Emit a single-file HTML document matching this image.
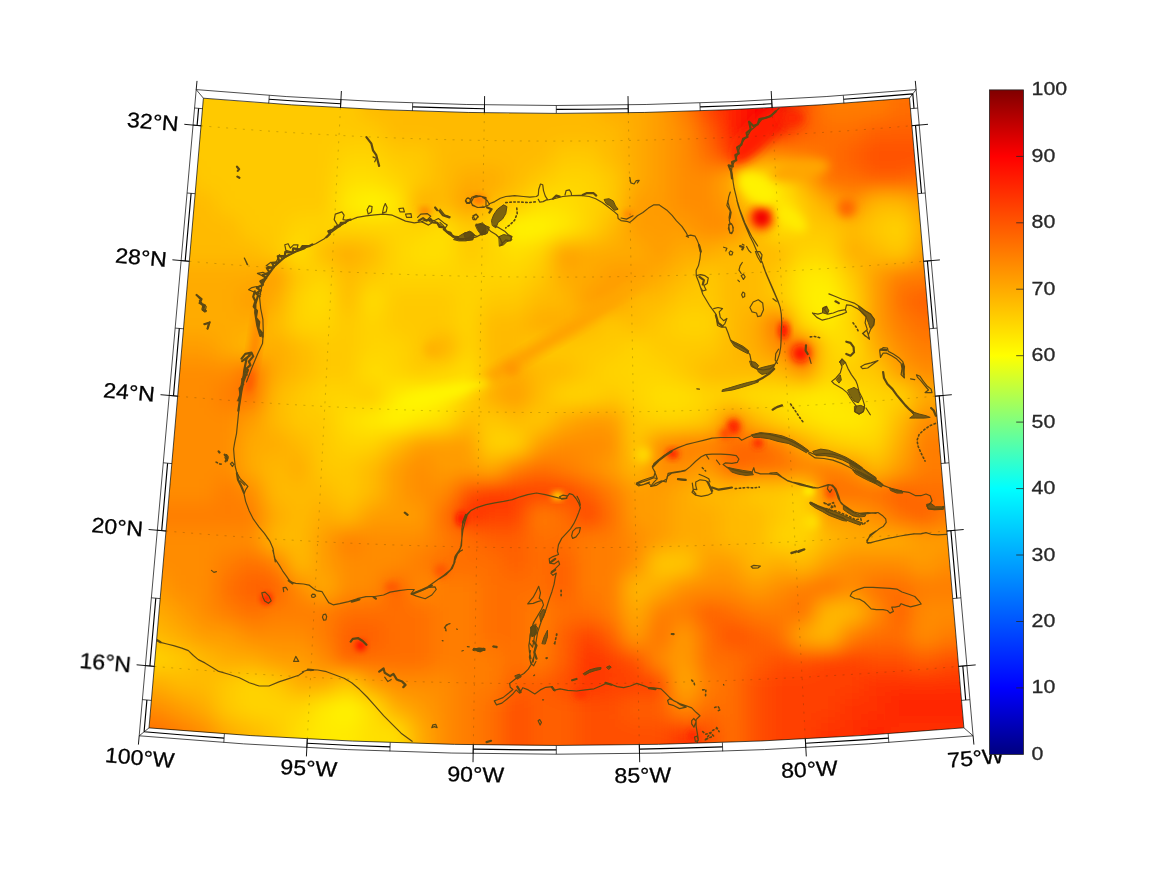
<!DOCTYPE html>
<html><head><meta charset="utf-8"><title>map</title>
<style>html,body{margin:0;padding:0;background:#fff}svg{display:block}text{font-family:"Liberation Sans",sans-serif}</style></head><body>
<svg width="1167" height="875" viewBox="0 0 1167 875">
<defs>
<clipPath id="c"><path d="M203.4,98.2A4100.7,4100.7 0 0 0 909.5,98.1L963.9,727.8A4732.7,4732.7 0 0 1 149,727.9Z"/></clipPath>
<filter id="b" x="-5%" y="-5%" width="110%" height="110%"><feGaussianBlur stdDeviation="10"/></filter>
<filter id="b2" x="-50%" y="-50%" width="200%" height="200%"><feGaussianBlur stdDeviation="5"/></filter>
<filter id="b4" x="-60%" y="-60%" width="220%" height="220%"><feGaussianBlur stdDeviation="4"/></filter>
<filter id="b3" x="-50%" y="-50%" width="200%" height="200%"><feGaussianBlur stdDeviation="3"/></filter>
<linearGradient id="jet" x1="0" y1="0" x2="0" y2="1"><stop offset="0" stop-color="#800000"/><stop offset="0.1" stop-color="#ff0000"/><stop offset="0.4" stop-color="#ffff00"/><stop offset="0.6" stop-color="#00ffff"/><stop offset="0.9" stop-color="#0000ff"/><stop offset="1" stop-color="#000080"/></linearGradient>
</defs>
<rect width="1167" height="875" fill="#fff"/>
<g clip-path="url(#c)">
<rect x="140" y="90" width="840" height="670" fill="#ffc900"/>
<g filter="url(#b)">
<rect x="104" y="56" width="256" height="64" fill="#ffc900"/>
<rect x="360" y="56" width="240" height="64" fill="#ffba00"/>
<rect x="600" y="56" width="48" height="64" fill="#ffab00"/>
<rect x="648" y="56" width="24" height="64" fill="#ff9c00"/>
<rect x="672" y="56" width="24" height="64" fill="#ff7d00"/>
<rect x="696" y="56" width="24" height="64" fill="#ff4000"/>
<rect x="720" y="56" width="24" height="64" fill="#ff2100"/>
<rect x="744" y="56" width="24" height="64" fill="#ff0300"/>
<rect x="768" y="56" width="24" height="64" fill="#d40000"/>
<rect x="792" y="56" width="24" height="64" fill="#ff4f00"/>
<rect x="816" y="56" width="72" height="64" fill="#ff7d00"/>
<rect x="888" y="56" width="136" height="64" fill="#ff6e00"/>
<rect x="104" y="120" width="280" height="24" fill="#ffc900"/>
<rect x="384" y="120" width="240" height="24" fill="#ffba00"/>
<rect x="624" y="120" width="24" height="24" fill="#ffab00"/>
<rect x="648" y="120" width="24" height="24" fill="#ff9c00"/>
<rect x="672" y="120" width="24" height="24" fill="#ff8c00"/>
<rect x="696" y="120" width="24" height="24" fill="#ff5e00"/>
<rect x="720" y="120" width="24" height="24" fill="#ff1200"/>
<rect x="744" y="120" width="24" height="24" fill="#f20000"/>
<rect x="768" y="120" width="24" height="24" fill="#ff0300"/>
<rect x="792" y="120" width="24" height="24" fill="#ff5e00"/>
<rect x="816" y="120" width="48" height="24" fill="#ff6e00"/>
<rect x="864" y="120" width="160" height="24" fill="#ff5e00"/>
<rect x="104" y="144" width="232" height="24" fill="#ffc900"/>
<rect x="336" y="144" width="48" height="24" fill="#ffd400"/>
<rect x="384" y="144" width="48" height="24" fill="#ffc900"/>
<rect x="432" y="144" width="120" height="24" fill="#ffba00"/>
<rect x="552" y="144" width="48" height="24" fill="#ffc900"/>
<rect x="600" y="144" width="24" height="24" fill="#ffba00"/>
<rect x="624" y="144" width="24" height="24" fill="#ffab00"/>
<rect x="648" y="144" width="24" height="24" fill="#ff9c00"/>
<rect x="672" y="144" width="24" height="24" fill="#ff8c00"/>
<rect x="696" y="144" width="24" height="24" fill="#ff6e00"/>
<rect x="720" y="144" width="24" height="24" fill="#ff3000"/>
<rect x="744" y="144" width="48" height="24" fill="#ff8c00"/>
<rect x="792" y="144" width="24" height="24" fill="#ff7d00"/>
<rect x="816" y="144" width="24" height="24" fill="#ff6e00"/>
<rect x="840" y="144" width="24" height="24" fill="#ff5e00"/>
<rect x="864" y="144" width="160" height="24" fill="#ff4f00"/>
<rect x="104" y="168" width="88" height="24" fill="#ffba00"/>
<rect x="192" y="168" width="144" height="24" fill="#ffc900"/>
<rect x="336" y="168" width="48" height="24" fill="#ffdf00"/>
<rect x="384" y="168" width="24" height="24" fill="#ffd400"/>
<rect x="408" y="168" width="24" height="24" fill="#ffc900"/>
<rect x="432" y="168" width="24" height="24" fill="#ffba00"/>
<rect x="456" y="168" width="48" height="24" fill="#ffab00"/>
<rect x="504" y="168" width="24" height="24" fill="#ffba00"/>
<rect x="528" y="168" width="24" height="24" fill="#ffc900"/>
<rect x="552" y="168" width="48" height="24" fill="#ffd400"/>
<rect x="600" y="168" width="24" height="24" fill="#ffc900"/>
<rect x="624" y="168" width="24" height="24" fill="#ffab00"/>
<rect x="648" y="168" width="24" height="24" fill="#ff9c00"/>
<rect x="672" y="168" width="48" height="24" fill="#ff8c00"/>
<rect x="720" y="168" width="24" height="24" fill="#ffab00"/>
<rect x="744" y="168" width="48" height="24" fill="#ffdf00"/>
<rect x="792" y="168" width="24" height="24" fill="#ffab00"/>
<rect x="816" y="168" width="48" height="24" fill="#ff6e00"/>
<rect x="864" y="168" width="48" height="24" fill="#ff5e00"/>
<rect x="912" y="168" width="112" height="24" fill="#ff6e00"/>
<rect x="104" y="192" width="112" height="24" fill="#ffba00"/>
<rect x="216" y="192" width="120" height="24" fill="#ffc900"/>
<rect x="336" y="192" width="24" height="24" fill="#ffea00"/>
<rect x="360" y="192" width="24" height="24" fill="#fff500"/>
<rect x="384" y="192" width="24" height="24" fill="#ffea00"/>
<rect x="408" y="192" width="24" height="24" fill="#ffab00"/>
<rect x="432" y="192" width="24" height="24" fill="#ffba00"/>
<rect x="456" y="192" width="24" height="24" fill="#ff9c00"/>
<rect x="480" y="192" width="24" height="24" fill="#ffba00"/>
<rect x="504" y="192" width="24" height="24" fill="#ffc900"/>
<rect x="528" y="192" width="48" height="24" fill="#ffdf00"/>
<rect x="576" y="192" width="24" height="24" fill="#ffd400"/>
<rect x="600" y="192" width="24" height="24" fill="#ffc900"/>
<rect x="624" y="192" width="48" height="24" fill="#ff9c00"/>
<rect x="672" y="192" width="48" height="24" fill="#ff8c00"/>
<rect x="720" y="192" width="24" height="24" fill="#ff9c00"/>
<rect x="744" y="192" width="24" height="24" fill="#ffd400"/>
<rect x="768" y="192" width="24" height="24" fill="#ffea00"/>
<rect x="792" y="192" width="24" height="24" fill="#ffc900"/>
<rect x="816" y="192" width="24" height="24" fill="#ffab00"/>
<rect x="840" y="192" width="24" height="24" fill="#ff8c00"/>
<rect x="864" y="192" width="48" height="24" fill="#ffba00"/>
<rect x="912" y="192" width="112" height="24" fill="#ff9c00"/>
<rect x="104" y="216" width="136" height="24" fill="#ffba00"/>
<rect x="240" y="216" width="48" height="24" fill="#ffc900"/>
<rect x="288" y="216" width="144" height="24" fill="#ffd400"/>
<rect x="432" y="216" width="24" height="24" fill="#ffdf00"/>
<rect x="456" y="216" width="24" height="24" fill="#ffc900"/>
<rect x="480" y="216" width="24" height="24" fill="#ffd400"/>
<rect x="504" y="216" width="48" height="24" fill="#fff500"/>
<rect x="552" y="216" width="24" height="24" fill="#ffea00"/>
<rect x="576" y="216" width="24" height="24" fill="#ffd400"/>
<rect x="600" y="216" width="24" height="24" fill="#ffba00"/>
<rect x="624" y="216" width="72" height="24" fill="#ff9c00"/>
<rect x="696" y="216" width="48" height="24" fill="#ff8c00"/>
<rect x="744" y="216" width="24" height="24" fill="#ffba00"/>
<rect x="768" y="216" width="24" height="24" fill="#ffdf00"/>
<rect x="792" y="216" width="48" height="24" fill="#ffc900"/>
<rect x="840" y="216" width="24" height="24" fill="#ffba00"/>
<rect x="864" y="216" width="24" height="24" fill="#ffc900"/>
<rect x="888" y="216" width="24" height="24" fill="#ffd400"/>
<rect x="912" y="216" width="112" height="24" fill="#ffab00"/>
<rect x="104" y="240" width="160" height="24" fill="#ffba00"/>
<rect x="264" y="240" width="24" height="24" fill="#ffc900"/>
<rect x="288" y="240" width="24" height="24" fill="#ffdf00"/>
<rect x="312" y="240" width="24" height="24" fill="#ffba00"/>
<rect x="336" y="240" width="24" height="24" fill="#ffab00"/>
<rect x="360" y="240" width="24" height="24" fill="#ffba00"/>
<rect x="384" y="240" width="24" height="24" fill="#ffd400"/>
<rect x="408" y="240" width="48" height="24" fill="#ffdf00"/>
<rect x="456" y="240" width="24" height="24" fill="#ffc900"/>
<rect x="480" y="240" width="24" height="24" fill="#ffd400"/>
<rect x="504" y="240" width="24" height="24" fill="#ffdf00"/>
<rect x="528" y="240" width="24" height="24" fill="#ffd400"/>
<rect x="552" y="240" width="24" height="24" fill="#ff9c00"/>
<rect x="576" y="240" width="72" height="24" fill="#ffab00"/>
<rect x="648" y="240" width="24" height="24" fill="#ff9c00"/>
<rect x="672" y="240" width="48" height="24" fill="#ffab00"/>
<rect x="720" y="240" width="72" height="24" fill="#ffba00"/>
<rect x="792" y="240" width="48" height="24" fill="#ffd400"/>
<rect x="840" y="240" width="24" height="24" fill="#ffab00"/>
<rect x="864" y="240" width="24" height="24" fill="#ffba00"/>
<rect x="888" y="240" width="24" height="24" fill="#ffc900"/>
<rect x="912" y="240" width="112" height="24" fill="#ff9c00"/>
<rect x="104" y="264" width="160" height="24" fill="#ffab00"/>
<rect x="264" y="264" width="24" height="24" fill="#ff9c00"/>
<rect x="288" y="264" width="24" height="24" fill="#ffc900"/>
<rect x="312" y="264" width="24" height="24" fill="#ffd400"/>
<rect x="336" y="264" width="24" height="24" fill="#ffba00"/>
<rect x="360" y="264" width="24" height="24" fill="#ffc900"/>
<rect x="384" y="264" width="144" height="24" fill="#ffd400"/>
<rect x="528" y="264" width="24" height="24" fill="#ffc900"/>
<rect x="552" y="264" width="48" height="24" fill="#ffab00"/>
<rect x="600" y="264" width="48" height="24" fill="#ff9c00"/>
<rect x="648" y="264" width="24" height="24" fill="#ffab00"/>
<rect x="672" y="264" width="24" height="24" fill="#ffba00"/>
<rect x="696" y="264" width="24" height="24" fill="#ffc900"/>
<rect x="720" y="264" width="48" height="24" fill="#ffba00"/>
<rect x="768" y="264" width="24" height="24" fill="#ffc900"/>
<rect x="792" y="264" width="48" height="24" fill="#ffea00"/>
<rect x="840" y="264" width="24" height="24" fill="#ffc900"/>
<rect x="864" y="264" width="24" height="24" fill="#ff9c00"/>
<rect x="888" y="264" width="136" height="24" fill="#ff7d00"/>
<rect x="104" y="288" width="136" height="24" fill="#ffab00"/>
<rect x="240" y="288" width="24" height="24" fill="#ff9c00"/>
<rect x="264" y="288" width="24" height="24" fill="#ffab00"/>
<rect x="288" y="288" width="24" height="24" fill="#ffd400"/>
<rect x="312" y="288" width="24" height="24" fill="#ffdf00"/>
<rect x="336" y="288" width="24" height="24" fill="#ffba00"/>
<rect x="360" y="288" width="24" height="24" fill="#ffdf00"/>
<rect x="384" y="288" width="72" height="24" fill="#ffc900"/>
<rect x="456" y="288" width="24" height="24" fill="#ffd400"/>
<rect x="480" y="288" width="48" height="24" fill="#ffc900"/>
<rect x="528" y="288" width="48" height="24" fill="#ffba00"/>
<rect x="576" y="288" width="48" height="24" fill="#ff9c00"/>
<rect x="624" y="288" width="48" height="24" fill="#ffba00"/>
<rect x="672" y="288" width="48" height="24" fill="#ffc900"/>
<rect x="720" y="288" width="48" height="24" fill="#ffba00"/>
<rect x="768" y="288" width="24" height="24" fill="#ffc900"/>
<rect x="792" y="288" width="24" height="24" fill="#ffea00"/>
<rect x="816" y="288" width="24" height="24" fill="#fff500"/>
<rect x="840" y="288" width="24" height="24" fill="#ffd400"/>
<rect x="864" y="288" width="24" height="24" fill="#ff9c00"/>
<rect x="888" y="288" width="24" height="24" fill="#ff6e00"/>
<rect x="912" y="288" width="112" height="24" fill="#ff5e00"/>
<rect x="104" y="312" width="160" height="24" fill="#ffab00"/>
<rect x="264" y="312" width="24" height="24" fill="#ffba00"/>
<rect x="288" y="312" width="48" height="24" fill="#ffd400"/>
<rect x="336" y="312" width="24" height="24" fill="#ffc900"/>
<rect x="360" y="312" width="24" height="24" fill="#ffd400"/>
<rect x="384" y="312" width="72" height="24" fill="#ffc900"/>
<rect x="456" y="312" width="24" height="24" fill="#ffd400"/>
<rect x="480" y="312" width="48" height="24" fill="#ffba00"/>
<rect x="528" y="312" width="48" height="24" fill="#ffab00"/>
<rect x="576" y="312" width="24" height="24" fill="#ffba00"/>
<rect x="600" y="312" width="24" height="24" fill="#ffc900"/>
<rect x="624" y="312" width="24" height="24" fill="#ffba00"/>
<rect x="648" y="312" width="24" height="24" fill="#ffc900"/>
<rect x="672" y="312" width="48" height="24" fill="#ffd400"/>
<rect x="720" y="312" width="24" height="24" fill="#ffba00"/>
<rect x="744" y="312" width="24" height="24" fill="#ffab00"/>
<rect x="768" y="312" width="24" height="24" fill="#ff5e00"/>
<rect x="792" y="312" width="24" height="24" fill="#ffdf00"/>
<rect x="816" y="312" width="24" height="24" fill="#ffea00"/>
<rect x="840" y="312" width="24" height="24" fill="#ffd400"/>
<rect x="864" y="312" width="24" height="24" fill="#ff9c00"/>
<rect x="888" y="312" width="24" height="24" fill="#ff7d00"/>
<rect x="912" y="312" width="112" height="24" fill="#ff6e00"/>
<rect x="104" y="336" width="112" height="24" fill="#ff9c00"/>
<rect x="216" y="336" width="24" height="24" fill="#ffab00"/>
<rect x="240" y="336" width="24" height="24" fill="#ffba00"/>
<rect x="264" y="336" width="24" height="24" fill="#ffab00"/>
<rect x="288" y="336" width="24" height="24" fill="#ffba00"/>
<rect x="312" y="336" width="48" height="24" fill="#ffc900"/>
<rect x="360" y="336" width="48" height="24" fill="#ffd400"/>
<rect x="408" y="336" width="24" height="24" fill="#ffc900"/>
<rect x="432" y="336" width="24" height="24" fill="#ffab00"/>
<rect x="456" y="336" width="24" height="24" fill="#ffd400"/>
<rect x="480" y="336" width="48" height="24" fill="#ffba00"/>
<rect x="528" y="336" width="96" height="24" fill="#ffc900"/>
<rect x="624" y="336" width="24" height="24" fill="#ffd400"/>
<rect x="648" y="336" width="72" height="24" fill="#ffc900"/>
<rect x="720" y="336" width="24" height="24" fill="#ffba00"/>
<rect x="744" y="336" width="24" height="24" fill="#ffab00"/>
<rect x="768" y="336" width="24" height="24" fill="#ff8c00"/>
<rect x="792" y="336" width="24" height="24" fill="#ff3000"/>
<rect x="816" y="336" width="24" height="24" fill="#ffd400"/>
<rect x="840" y="336" width="24" height="24" fill="#ffdf00"/>
<rect x="864" y="336" width="24" height="24" fill="#ffab00"/>
<rect x="888" y="336" width="24" height="24" fill="#ff8c00"/>
<rect x="912" y="336" width="112" height="24" fill="#ff7d00"/>
<rect x="104" y="360" width="136" height="24" fill="#ff8c00"/>
<rect x="240" y="360" width="24" height="24" fill="#ff6e00"/>
<rect x="264" y="360" width="24" height="24" fill="#ffab00"/>
<rect x="288" y="360" width="24" height="24" fill="#ffba00"/>
<rect x="312" y="360" width="48" height="24" fill="#ffc900"/>
<rect x="360" y="360" width="24" height="24" fill="#ffdf00"/>
<rect x="384" y="360" width="24" height="24" fill="#ffd400"/>
<rect x="408" y="360" width="24" height="24" fill="#ffc900"/>
<rect x="432" y="360" width="24" height="24" fill="#ffd400"/>
<rect x="456" y="360" width="24" height="24" fill="#ffdf00"/>
<rect x="480" y="360" width="24" height="24" fill="#ffba00"/>
<rect x="504" y="360" width="24" height="24" fill="#ffab00"/>
<rect x="528" y="360" width="48" height="24" fill="#ffba00"/>
<rect x="576" y="360" width="24" height="24" fill="#ffc900"/>
<rect x="600" y="360" width="72" height="24" fill="#ffd400"/>
<rect x="672" y="360" width="24" height="24" fill="#ffc900"/>
<rect x="696" y="360" width="96" height="24" fill="#ffba00"/>
<rect x="792" y="360" width="24" height="24" fill="#ff8c00"/>
<rect x="816" y="360" width="24" height="24" fill="#ffd400"/>
<rect x="840" y="360" width="48" height="24" fill="#ffc900"/>
<rect x="888" y="360" width="24" height="24" fill="#ff9c00"/>
<rect x="912" y="360" width="112" height="24" fill="#ff8c00"/>
<rect x="104" y="384" width="112" height="24" fill="#ff8c00"/>
<rect x="216" y="384" width="24" height="24" fill="#ff7d00"/>
<rect x="240" y="384" width="24" height="24" fill="#ff6e00"/>
<rect x="264" y="384" width="24" height="24" fill="#ffba00"/>
<rect x="288" y="384" width="24" height="24" fill="#ffc900"/>
<rect x="312" y="384" width="48" height="24" fill="#ffd400"/>
<rect x="360" y="384" width="24" height="24" fill="#ffc900"/>
<rect x="384" y="384" width="24" height="24" fill="#ffea00"/>
<rect x="408" y="384" width="24" height="24" fill="#fff500"/>
<rect x="432" y="384" width="24" height="24" fill="#ffea00"/>
<rect x="456" y="384" width="24" height="24" fill="#ffd400"/>
<rect x="480" y="384" width="24" height="24" fill="#ffab00"/>
<rect x="504" y="384" width="24" height="24" fill="#ff9c00"/>
<rect x="528" y="384" width="24" height="24" fill="#ffba00"/>
<rect x="552" y="384" width="48" height="24" fill="#ffd400"/>
<rect x="600" y="384" width="24" height="24" fill="#ffc900"/>
<rect x="624" y="384" width="24" height="24" fill="#ffd400"/>
<rect x="648" y="384" width="48" height="24" fill="#ffdf00"/>
<rect x="696" y="384" width="48" height="24" fill="#ffd400"/>
<rect x="744" y="384" width="48" height="24" fill="#ffdf00"/>
<rect x="792" y="384" width="48" height="24" fill="#ffea00"/>
<rect x="840" y="384" width="24" height="24" fill="#ffdf00"/>
<rect x="864" y="384" width="48" height="24" fill="#ffd400"/>
<rect x="912" y="384" width="112" height="24" fill="#ffab00"/>
<rect x="104" y="408" width="136" height="24" fill="#ff8c00"/>
<rect x="240" y="408" width="24" height="24" fill="#ff9c00"/>
<rect x="264" y="408" width="24" height="24" fill="#ffba00"/>
<rect x="288" y="408" width="48" height="24" fill="#ffc900"/>
<rect x="336" y="408" width="24" height="24" fill="#ffdf00"/>
<rect x="360" y="408" width="24" height="24" fill="#ffea00"/>
<rect x="384" y="408" width="24" height="24" fill="#fff500"/>
<rect x="408" y="408" width="24" height="24" fill="#ffea00"/>
<rect x="432" y="408" width="24" height="24" fill="#ffdf00"/>
<rect x="456" y="408" width="24" height="24" fill="#ffba00"/>
<rect x="480" y="408" width="24" height="24" fill="#ffc900"/>
<rect x="504" y="408" width="24" height="24" fill="#ffba00"/>
<rect x="528" y="408" width="24" height="24" fill="#ffc900"/>
<rect x="552" y="408" width="24" height="24" fill="#ffab00"/>
<rect x="576" y="408" width="48" height="24" fill="#ff9c00"/>
<rect x="624" y="408" width="24" height="24" fill="#ffc900"/>
<rect x="648" y="408" width="48" height="24" fill="#ffd400"/>
<rect x="696" y="408" width="24" height="24" fill="#ffc900"/>
<rect x="720" y="408" width="24" height="24" fill="#ff7d00"/>
<rect x="744" y="408" width="24" height="24" fill="#ffba00"/>
<rect x="768" y="408" width="24" height="24" fill="#ffd400"/>
<rect x="792" y="408" width="24" height="24" fill="#ffdf00"/>
<rect x="816" y="408" width="48" height="24" fill="#ffea00"/>
<rect x="864" y="408" width="24" height="24" fill="#ffdf00"/>
<rect x="888" y="408" width="24" height="24" fill="#ffba00"/>
<rect x="912" y="408" width="112" height="24" fill="#ff8c00"/>
<rect x="104" y="432" width="136" height="24" fill="#ff8c00"/>
<rect x="240" y="432" width="48" height="24" fill="#ffab00"/>
<rect x="288" y="432" width="24" height="24" fill="#ffba00"/>
<rect x="312" y="432" width="24" height="24" fill="#ffc900"/>
<rect x="336" y="432" width="48" height="24" fill="#ffd400"/>
<rect x="384" y="432" width="24" height="24" fill="#ffba00"/>
<rect x="408" y="432" width="72" height="24" fill="#ff9c00"/>
<rect x="480" y="432" width="48" height="24" fill="#ffd400"/>
<rect x="528" y="432" width="24" height="24" fill="#ff9c00"/>
<rect x="552" y="432" width="72" height="24" fill="#ff8c00"/>
<rect x="624" y="432" width="24" height="24" fill="#ffc900"/>
<rect x="648" y="432" width="24" height="24" fill="#ff8c00"/>
<rect x="672" y="432" width="48" height="24" fill="#ff7d00"/>
<rect x="720" y="432" width="24" height="24" fill="#ff6e00"/>
<rect x="744" y="432" width="24" height="24" fill="#ff5e00"/>
<rect x="768" y="432" width="24" height="24" fill="#ff7d00"/>
<rect x="792" y="432" width="24" height="24" fill="#ffab00"/>
<rect x="816" y="432" width="24" height="24" fill="#ffc900"/>
<rect x="840" y="432" width="48" height="24" fill="#ffd400"/>
<rect x="888" y="432" width="24" height="24" fill="#ffab00"/>
<rect x="912" y="432" width="112" height="24" fill="#ff7d00"/>
<rect x="104" y="456" width="136" height="24" fill="#ff8c00"/>
<rect x="240" y="456" width="24" height="24" fill="#ffab00"/>
<rect x="264" y="456" width="24" height="24" fill="#ffba00"/>
<rect x="288" y="456" width="24" height="24" fill="#ffab00"/>
<rect x="312" y="456" width="48" height="24" fill="#ffc900"/>
<rect x="360" y="456" width="24" height="24" fill="#ffba00"/>
<rect x="384" y="456" width="24" height="24" fill="#ff9c00"/>
<rect x="408" y="456" width="24" height="24" fill="#ff8c00"/>
<rect x="432" y="456" width="48" height="24" fill="#ff9c00"/>
<rect x="480" y="456" width="24" height="24" fill="#ffab00"/>
<rect x="504" y="456" width="24" height="24" fill="#ff7d00"/>
<rect x="528" y="456" width="24" height="24" fill="#ff6e00"/>
<rect x="552" y="456" width="24" height="24" fill="#ff7d00"/>
<rect x="576" y="456" width="24" height="24" fill="#ff8c00"/>
<rect x="600" y="456" width="24" height="24" fill="#ff9c00"/>
<rect x="624" y="456" width="24" height="24" fill="#ffba00"/>
<rect x="648" y="456" width="48" height="24" fill="#ff8c00"/>
<rect x="696" y="456" width="24" height="24" fill="#ff9c00"/>
<rect x="720" y="456" width="24" height="24" fill="#ff5e00"/>
<rect x="744" y="456" width="48" height="24" fill="#ff6e00"/>
<rect x="792" y="456" width="48" height="24" fill="#ff7d00"/>
<rect x="840" y="456" width="24" height="24" fill="#ff8c00"/>
<rect x="864" y="456" width="24" height="24" fill="#ffba00"/>
<rect x="888" y="456" width="24" height="24" fill="#ff9c00"/>
<rect x="912" y="456" width="112" height="24" fill="#ff7d00"/>
<rect x="104" y="480" width="112" height="24" fill="#ff8c00"/>
<rect x="216" y="480" width="24" height="24" fill="#ff7d00"/>
<rect x="240" y="480" width="24" height="24" fill="#ff8c00"/>
<rect x="264" y="480" width="72" height="24" fill="#ffba00"/>
<rect x="336" y="480" width="24" height="24" fill="#ffc900"/>
<rect x="360" y="480" width="24" height="24" fill="#ffba00"/>
<rect x="384" y="480" width="24" height="24" fill="#ff9c00"/>
<rect x="408" y="480" width="48" height="24" fill="#ff8c00"/>
<rect x="456" y="480" width="24" height="24" fill="#ff4f00"/>
<rect x="480" y="480" width="24" height="24" fill="#ff3000"/>
<rect x="504" y="480" width="72" height="24" fill="#ff4000"/>
<rect x="576" y="480" width="24" height="24" fill="#ff5e00"/>
<rect x="600" y="480" width="24" height="24" fill="#ff7d00"/>
<rect x="624" y="480" width="48" height="24" fill="#ff9c00"/>
<rect x="672" y="480" width="24" height="24" fill="#ffab00"/>
<rect x="696" y="480" width="48" height="24" fill="#ffba00"/>
<rect x="744" y="480" width="48" height="24" fill="#ffc900"/>
<rect x="792" y="480" width="24" height="24" fill="#ffd400"/>
<rect x="816" y="480" width="72" height="24" fill="#ff6e00"/>
<rect x="888" y="480" width="24" height="24" fill="#ff5e00"/>
<rect x="912" y="480" width="112" height="24" fill="#ff6e00"/>
<rect x="104" y="504" width="160" height="24" fill="#ff7d00"/>
<rect x="264" y="504" width="24" height="24" fill="#ffab00"/>
<rect x="288" y="504" width="24" height="24" fill="#ffba00"/>
<rect x="312" y="504" width="24" height="24" fill="#ffab00"/>
<rect x="336" y="504" width="24" height="24" fill="#ffba00"/>
<rect x="360" y="504" width="72" height="24" fill="#ff9c00"/>
<rect x="432" y="504" width="24" height="24" fill="#ff6e00"/>
<rect x="456" y="504" width="24" height="24" fill="#ff2100"/>
<rect x="480" y="504" width="48" height="24" fill="#ff4000"/>
<rect x="528" y="504" width="24" height="24" fill="#ff7d00"/>
<rect x="552" y="504" width="24" height="24" fill="#ff6e00"/>
<rect x="576" y="504" width="24" height="24" fill="#ff4000"/>
<rect x="600" y="504" width="24" height="24" fill="#ff6e00"/>
<rect x="624" y="504" width="48" height="24" fill="#ff9c00"/>
<rect x="672" y="504" width="48" height="24" fill="#ffab00"/>
<rect x="720" y="504" width="48" height="24" fill="#ffba00"/>
<rect x="768" y="504" width="24" height="24" fill="#ffc900"/>
<rect x="792" y="504" width="24" height="24" fill="#ffd400"/>
<rect x="816" y="504" width="48" height="24" fill="#ff9c00"/>
<rect x="864" y="504" width="24" height="24" fill="#ff8c00"/>
<rect x="888" y="504" width="24" height="24" fill="#ff6e00"/>
<rect x="912" y="504" width="24" height="24" fill="#ff5e00"/>
<rect x="936" y="504" width="88" height="24" fill="#ff7d00"/>
<rect x="104" y="528" width="160" height="24" fill="#ff8c00"/>
<rect x="264" y="528" width="48" height="24" fill="#ffba00"/>
<rect x="312" y="528" width="24" height="24" fill="#ff9c00"/>
<rect x="336" y="528" width="24" height="24" fill="#ff7d00"/>
<rect x="360" y="528" width="72" height="24" fill="#ff8c00"/>
<rect x="432" y="528" width="24" height="24" fill="#ff7d00"/>
<rect x="456" y="528" width="24" height="24" fill="#ff6e00"/>
<rect x="480" y="528" width="48" height="24" fill="#ff5e00"/>
<rect x="528" y="528" width="48" height="24" fill="#ff6e00"/>
<rect x="576" y="528" width="48" height="24" fill="#ff7d00"/>
<rect x="624" y="528" width="24" height="24" fill="#ff8c00"/>
<rect x="648" y="528" width="24" height="24" fill="#ff9c00"/>
<rect x="672" y="528" width="48" height="24" fill="#ffab00"/>
<rect x="720" y="528" width="48" height="24" fill="#ffba00"/>
<rect x="768" y="528" width="48" height="24" fill="#ffd400"/>
<rect x="816" y="528" width="24" height="24" fill="#ffba00"/>
<rect x="840" y="528" width="72" height="24" fill="#ffab00"/>
<rect x="912" y="528" width="112" height="24" fill="#ff9c00"/>
<rect x="104" y="552" width="112" height="24" fill="#ff8c00"/>
<rect x="216" y="552" width="24" height="24" fill="#ff7d00"/>
<rect x="240" y="552" width="24" height="24" fill="#ff6e00"/>
<rect x="264" y="552" width="24" height="24" fill="#ff7d00"/>
<rect x="288" y="552" width="24" height="24" fill="#ffba00"/>
<rect x="312" y="552" width="24" height="24" fill="#ff9c00"/>
<rect x="336" y="552" width="72" height="24" fill="#ff8c00"/>
<rect x="408" y="552" width="24" height="24" fill="#ff7d00"/>
<rect x="432" y="552" width="72" height="24" fill="#ff6e00"/>
<rect x="504" y="552" width="24" height="24" fill="#ff5e00"/>
<rect x="528" y="552" width="24" height="24" fill="#ff6e00"/>
<rect x="552" y="552" width="24" height="24" fill="#ff5e00"/>
<rect x="576" y="552" width="48" height="24" fill="#ff7d00"/>
<rect x="624" y="552" width="24" height="24" fill="#ff8c00"/>
<rect x="648" y="552" width="48" height="24" fill="#ffc900"/>
<rect x="696" y="552" width="48" height="24" fill="#ff9c00"/>
<rect x="744" y="552" width="24" height="24" fill="#ffba00"/>
<rect x="768" y="552" width="24" height="24" fill="#ffab00"/>
<rect x="792" y="552" width="24" height="24" fill="#ffba00"/>
<rect x="816" y="552" width="24" height="24" fill="#ff9c00"/>
<rect x="840" y="552" width="72" height="24" fill="#ff8c00"/>
<rect x="912" y="552" width="24" height="24" fill="#ff9c00"/>
<rect x="936" y="552" width="88" height="24" fill="#ff8c00"/>
<rect x="104" y="576" width="64" height="24" fill="#ff9c00"/>
<rect x="168" y="576" width="48" height="24" fill="#ff8c00"/>
<rect x="216" y="576" width="24" height="24" fill="#ff6e00"/>
<rect x="240" y="576" width="48" height="24" fill="#ff5e00"/>
<rect x="288" y="576" width="24" height="24" fill="#ff8c00"/>
<rect x="312" y="576" width="24" height="24" fill="#ffab00"/>
<rect x="336" y="576" width="48" height="24" fill="#ff8c00"/>
<rect x="384" y="576" width="24" height="24" fill="#ff5e00"/>
<rect x="408" y="576" width="24" height="24" fill="#ff8c00"/>
<rect x="432" y="576" width="48" height="24" fill="#ff7d00"/>
<rect x="480" y="576" width="72" height="24" fill="#ff6e00"/>
<rect x="552" y="576" width="24" height="24" fill="#ff5e00"/>
<rect x="576" y="576" width="48" height="24" fill="#ff7d00"/>
<rect x="624" y="576" width="24" height="24" fill="#ffba00"/>
<rect x="648" y="576" width="24" height="24" fill="#ffab00"/>
<rect x="672" y="576" width="72" height="24" fill="#ff8c00"/>
<rect x="744" y="576" width="24" height="24" fill="#ff9c00"/>
<rect x="768" y="576" width="24" height="24" fill="#ff8c00"/>
<rect x="792" y="576" width="24" height="24" fill="#ff7d00"/>
<rect x="816" y="576" width="24" height="24" fill="#ff6e00"/>
<rect x="840" y="576" width="24" height="24" fill="#ff8c00"/>
<rect x="864" y="576" width="48" height="24" fill="#ff6e00"/>
<rect x="912" y="576" width="112" height="24" fill="#ff7d00"/>
<rect x="104" y="600" width="64" height="24" fill="#ffab00"/>
<rect x="168" y="600" width="24" height="24" fill="#ff9c00"/>
<rect x="192" y="600" width="24" height="24" fill="#ff8c00"/>
<rect x="216" y="600" width="24" height="24" fill="#ff7d00"/>
<rect x="240" y="600" width="24" height="24" fill="#ff6e00"/>
<rect x="264" y="600" width="72" height="24" fill="#ff7d00"/>
<rect x="336" y="600" width="96" height="24" fill="#ff6e00"/>
<rect x="432" y="600" width="48" height="24" fill="#ff7d00"/>
<rect x="480" y="600" width="48" height="24" fill="#ff6e00"/>
<rect x="528" y="600" width="24" height="24" fill="#ff7d00"/>
<rect x="552" y="600" width="48" height="24" fill="#ff6e00"/>
<rect x="600" y="600" width="24" height="24" fill="#ff7d00"/>
<rect x="624" y="600" width="24" height="24" fill="#ffab00"/>
<rect x="648" y="600" width="48" height="24" fill="#ff7d00"/>
<rect x="696" y="600" width="24" height="24" fill="#ff5e00"/>
<rect x="720" y="600" width="24" height="24" fill="#ff6e00"/>
<rect x="744" y="600" width="48" height="24" fill="#ff7d00"/>
<rect x="792" y="600" width="24" height="24" fill="#ff6e00"/>
<rect x="816" y="600" width="48" height="24" fill="#ffba00"/>
<rect x="864" y="600" width="24" height="24" fill="#ff8c00"/>
<rect x="888" y="600" width="24" height="24" fill="#ff5e00"/>
<rect x="912" y="600" width="112" height="24" fill="#ff8c00"/>
<rect x="104" y="624" width="64" height="24" fill="#ffba00"/>
<rect x="168" y="624" width="24" height="24" fill="#ffab00"/>
<rect x="192" y="624" width="48" height="24" fill="#ff9c00"/>
<rect x="240" y="624" width="72" height="24" fill="#ff8c00"/>
<rect x="312" y="624" width="24" height="24" fill="#ff7d00"/>
<rect x="336" y="624" width="48" height="24" fill="#ff5e00"/>
<rect x="384" y="624" width="48" height="24" fill="#ff6e00"/>
<rect x="432" y="624" width="48" height="24" fill="#ff7d00"/>
<rect x="480" y="624" width="48" height="24" fill="#ff6e00"/>
<rect x="528" y="624" width="24" height="24" fill="#ff7d00"/>
<rect x="552" y="624" width="24" height="24" fill="#ff5e00"/>
<rect x="576" y="624" width="24" height="24" fill="#ff4000"/>
<rect x="600" y="624" width="24" height="24" fill="#ff5e00"/>
<rect x="624" y="624" width="24" height="24" fill="#ff9c00"/>
<rect x="648" y="624" width="24" height="24" fill="#ff6e00"/>
<rect x="672" y="624" width="24" height="24" fill="#ff9c00"/>
<rect x="696" y="624" width="24" height="24" fill="#ff6e00"/>
<rect x="720" y="624" width="24" height="24" fill="#ff4f00"/>
<rect x="744" y="624" width="24" height="24" fill="#ff5e00"/>
<rect x="768" y="624" width="24" height="24" fill="#ff6e00"/>
<rect x="792" y="624" width="24" height="24" fill="#ffab00"/>
<rect x="816" y="624" width="24" height="24" fill="#ffba00"/>
<rect x="840" y="624" width="24" height="24" fill="#ff7d00"/>
<rect x="864" y="624" width="48" height="24" fill="#ff6e00"/>
<rect x="912" y="624" width="24" height="24" fill="#ff8c00"/>
<rect x="936" y="624" width="88" height="24" fill="#ff7d00"/>
<rect x="104" y="648" width="64" height="24" fill="#ffd400"/>
<rect x="168" y="648" width="24" height="24" fill="#ffc900"/>
<rect x="192" y="648" width="24" height="24" fill="#ffba00"/>
<rect x="216" y="648" width="48" height="24" fill="#ffab00"/>
<rect x="264" y="648" width="48" height="24" fill="#ff9c00"/>
<rect x="312" y="648" width="24" height="24" fill="#ff8c00"/>
<rect x="336" y="648" width="24" height="24" fill="#ff5e00"/>
<rect x="360" y="648" width="72" height="24" fill="#ff6e00"/>
<rect x="432" y="648" width="72" height="24" fill="#ff7d00"/>
<rect x="504" y="648" width="24" height="24" fill="#ff6e00"/>
<rect x="528" y="648" width="24" height="24" fill="#ff7d00"/>
<rect x="552" y="648" width="24" height="24" fill="#ff5e00"/>
<rect x="576" y="648" width="24" height="24" fill="#ff3000"/>
<rect x="600" y="648" width="24" height="24" fill="#ff4000"/>
<rect x="624" y="648" width="24" height="24" fill="#ff4f00"/>
<rect x="648" y="648" width="24" height="24" fill="#ff8c00"/>
<rect x="672" y="648" width="24" height="24" fill="#ff9c00"/>
<rect x="696" y="648" width="48" height="24" fill="#ff6e00"/>
<rect x="744" y="648" width="24" height="24" fill="#ff5e00"/>
<rect x="768" y="648" width="48" height="24" fill="#ff4f00"/>
<rect x="816" y="648" width="48" height="24" fill="#ff4000"/>
<rect x="864" y="648" width="48" height="24" fill="#ff4f00"/>
<rect x="912" y="648" width="24" height="24" fill="#ff5e00"/>
<rect x="936" y="648" width="88" height="24" fill="#ff4f00"/>
<rect x="104" y="672" width="64" height="24" fill="#ffab00"/>
<rect x="168" y="672" width="48" height="24" fill="#ffba00"/>
<rect x="216" y="672" width="24" height="24" fill="#ffc900"/>
<rect x="240" y="672" width="24" height="24" fill="#ffd400"/>
<rect x="264" y="672" width="24" height="24" fill="#ffc900"/>
<rect x="288" y="672" width="48" height="24" fill="#ffab00"/>
<rect x="336" y="672" width="24" height="24" fill="#ffc900"/>
<rect x="360" y="672" width="24" height="24" fill="#ff9c00"/>
<rect x="384" y="672" width="72" height="24" fill="#ff8c00"/>
<rect x="456" y="672" width="48" height="24" fill="#ff7d00"/>
<rect x="504" y="672" width="48" height="24" fill="#ff5e00"/>
<rect x="552" y="672" width="24" height="24" fill="#ff4f00"/>
<rect x="576" y="672" width="24" height="24" fill="#ff3000"/>
<rect x="600" y="672" width="72" height="24" fill="#ff4000"/>
<rect x="672" y="672" width="24" height="24" fill="#ffab00"/>
<rect x="696" y="672" width="24" height="24" fill="#ff7d00"/>
<rect x="720" y="672" width="24" height="24" fill="#ff6e00"/>
<rect x="744" y="672" width="24" height="24" fill="#ff4f00"/>
<rect x="768" y="672" width="96" height="24" fill="#ff4000"/>
<rect x="864" y="672" width="160" height="24" fill="#ff3000"/>
<rect x="104" y="696" width="64" height="24" fill="#ff8c00"/>
<rect x="168" y="696" width="24" height="24" fill="#ff9c00"/>
<rect x="192" y="696" width="24" height="24" fill="#ffab00"/>
<rect x="216" y="696" width="24" height="24" fill="#ffc900"/>
<rect x="240" y="696" width="72" height="24" fill="#ffd400"/>
<rect x="312" y="696" width="24" height="24" fill="#ffea00"/>
<rect x="336" y="696" width="24" height="24" fill="#fff500"/>
<rect x="360" y="696" width="24" height="24" fill="#ffdf00"/>
<rect x="384" y="696" width="24" height="24" fill="#ffab00"/>
<rect x="408" y="696" width="24" height="24" fill="#ff9c00"/>
<rect x="432" y="696" width="24" height="24" fill="#ff8c00"/>
<rect x="456" y="696" width="24" height="24" fill="#ff7d00"/>
<rect x="480" y="696" width="24" height="24" fill="#ff6e00"/>
<rect x="504" y="696" width="24" height="24" fill="#ff4f00"/>
<rect x="528" y="696" width="48" height="24" fill="#ff5e00"/>
<rect x="576" y="696" width="48" height="24" fill="#ff4f00"/>
<rect x="624" y="696" width="48" height="24" fill="#ff5e00"/>
<rect x="672" y="696" width="24" height="24" fill="#ff8c00"/>
<rect x="696" y="696" width="48" height="24" fill="#ff6e00"/>
<rect x="744" y="696" width="24" height="24" fill="#ff4f00"/>
<rect x="768" y="696" width="72" height="24" fill="#ff4000"/>
<rect x="840" y="696" width="48" height="24" fill="#ff3000"/>
<rect x="888" y="696" width="136" height="24" fill="#ff2100"/>
<rect x="104" y="720" width="64" height="24" fill="#ff6e00"/>
<rect x="168" y="720" width="24" height="24" fill="#ff7d00"/>
<rect x="192" y="720" width="24" height="24" fill="#ff8c00"/>
<rect x="216" y="720" width="24" height="24" fill="#ffab00"/>
<rect x="240" y="720" width="24" height="24" fill="#ffba00"/>
<rect x="264" y="720" width="24" height="24" fill="#ffc900"/>
<rect x="288" y="720" width="24" height="24" fill="#ffdf00"/>
<rect x="312" y="720" width="48" height="24" fill="#ffea00"/>
<rect x="360" y="720" width="48" height="24" fill="#ffdf00"/>
<rect x="408" y="720" width="24" height="24" fill="#ffab00"/>
<rect x="432" y="720" width="24" height="24" fill="#ff8c00"/>
<rect x="456" y="720" width="24" height="24" fill="#ff7d00"/>
<rect x="480" y="720" width="24" height="24" fill="#ff6e00"/>
<rect x="504" y="720" width="24" height="24" fill="#ff4f00"/>
<rect x="528" y="720" width="48" height="24" fill="#ff5e00"/>
<rect x="576" y="720" width="96" height="24" fill="#ff4f00"/>
<rect x="672" y="720" width="24" height="24" fill="#ff3000"/>
<rect x="696" y="720" width="24" height="24" fill="#ff4f00"/>
<rect x="720" y="720" width="24" height="24" fill="#ff6e00"/>
<rect x="744" y="720" width="24" height="24" fill="#ff4f00"/>
<rect x="768" y="720" width="48" height="24" fill="#ff4000"/>
<rect x="816" y="720" width="48" height="24" fill="#ff3000"/>
<rect x="864" y="720" width="24" height="24" fill="#ff2100"/>
<rect x="888" y="720" width="136" height="24" fill="#ff3000"/>
<rect x="104" y="744" width="64" height="64" fill="#ff6e00"/>
<rect x="168" y="744" width="24" height="64" fill="#ff7d00"/>
<rect x="192" y="744" width="24" height="64" fill="#ff8c00"/>
<rect x="216" y="744" width="24" height="64" fill="#ffab00"/>
<rect x="240" y="744" width="24" height="64" fill="#ffba00"/>
<rect x="264" y="744" width="24" height="64" fill="#ffc900"/>
<rect x="288" y="744" width="24" height="64" fill="#ffdf00"/>
<rect x="312" y="744" width="48" height="64" fill="#ffea00"/>
<rect x="360" y="744" width="48" height="64" fill="#ffdf00"/>
<rect x="408" y="744" width="24" height="64" fill="#ffab00"/>
<rect x="432" y="744" width="24" height="64" fill="#ff8c00"/>
<rect x="456" y="744" width="24" height="64" fill="#ff7d00"/>
<rect x="480" y="744" width="24" height="64" fill="#ff6e00"/>
<rect x="504" y="744" width="24" height="64" fill="#ff4f00"/>
<rect x="528" y="744" width="48" height="64" fill="#ff5e00"/>
<rect x="576" y="744" width="96" height="64" fill="#ff4f00"/>
<rect x="672" y="744" width="24" height="64" fill="#ff3000"/>
<rect x="696" y="744" width="24" height="64" fill="#ff4f00"/>
<rect x="720" y="744" width="24" height="64" fill="#ff6e00"/>
<rect x="744" y="744" width="24" height="64" fill="#ff4f00"/>
<rect x="768" y="744" width="48" height="64" fill="#ff4000"/>
<rect x="816" y="744" width="48" height="64" fill="#ff3000"/>
<rect x="864" y="744" width="24" height="64" fill="#ff2100"/>
<rect x="888" y="744" width="136" height="64" fill="#ff3000"/>
</g>
<ellipse cx="761.5" cy="217.7" rx="13.0" ry="13.0" fill="#ff4000" filter="url(#b2)"/>
<ellipse cx="761.5" cy="217.7" rx="7.0" ry="7.0" fill="#f20000" filter="url(#b3)"/>
<ellipse cx="784.0" cy="330.5" rx="5.0" ry="9.0" fill="#ff0d00" filter="url(#b3)"/>
<ellipse cx="800.6" cy="353.5" rx="9.0" ry="9.0" fill="#ff0d00" filter="url(#b4)"/>
<ellipse cx="672.7" cy="454.0" rx="6.0" ry="5.0" fill="#ff1a00" filter="url(#b3)"/>
<ellipse cx="733.6" cy="426.8" rx="7.0" ry="8.0" fill="#ff2600" filter="url(#b3)"/>
<ellipse cx="725.0" cy="434.0" rx="5.0" ry="5.0" fill="#ff4000" filter="url(#b3)"/>
<ellipse cx="758.0" cy="443.0" rx="5.0" ry="5.0" fill="#ff2600" filter="url(#b3)"/>
<ellipse cx="830.6" cy="492.5" rx="4.0" ry="6.0" fill="#ff4000" filter="url(#b3)"/>
<ellipse cx="809.0" cy="491.0" rx="6.0" ry="5.0" fill="#fff200" filter="url(#b3)"/>
<ellipse cx="811.0" cy="522.0" rx="8.0" ry="8.0" fill="#ffdf00" filter="url(#b4)"/>
<ellipse cx="643.0" cy="454.7" rx="8.0" ry="8.0" fill="#ffd900" filter="url(#b4)"/>
<ellipse cx="557.6" cy="495.8" rx="6.0" ry="4.0" fill="#ffe500" filter="url(#b3)"/>
<ellipse cx="266.5" cy="598.7" rx="5.0" ry="5.0" fill="#ff0d00" filter="url(#b3)"/>
<ellipse cx="360.7" cy="645.6" rx="5.0" ry="5.0" fill="#ff0000" filter="url(#b3)"/>
<ellipse cx="461.4" cy="518.9" rx="5.0" ry="7.0" fill="#ff0d00" filter="url(#b3)"/>
<ellipse cx="253.7" cy="353.8" rx="4.0" ry="48.0" transform="rotate(8.5 253.7 353.8)" fill="#ff7900" filter="url(#b4)"/>
<ellipse cx="249.5" cy="381.0" rx="4.0" ry="12.0" transform="rotate(8.0 249.5 381.0)" fill="#ff5900" filter="url(#b3)"/>
<ellipse cx="424.8" cy="211.2" rx="6.0" ry="4.0" fill="#ff8000" filter="url(#b3)"/>
<ellipse cx="479.1" cy="199.7" rx="7.0" ry="5.0" fill="#ff7300" filter="url(#b3)"/>
<ellipse cx="628.4" cy="214.5" rx="5.0" ry="4.0" fill="#ff8000" filter="url(#b3)"/>
<ellipse cx="580.6" cy="693.4" rx="7.0" ry="5.0" fill="#ff3300" filter="url(#b3)"/>
<ellipse cx="692.5" cy="736.0" rx="5.0" ry="6.0" fill="#ff2600" filter="url(#b3)"/>
<ellipse cx="392.0" cy="587.2" rx="7.0" ry="5.0" fill="#ff5900" filter="url(#b3)"/>
<ellipse cx="441.3" cy="570.8" rx="7.0" ry="7.0" fill="#ff5900" filter="url(#b3)"/>
<ellipse cx="759.0" cy="133.3" rx="38.0" ry="13.0" transform="rotate(-48.5 759.0 133.3)" fill="#ff1a00" filter="url(#b2)"/>
<ellipse cx="792.0" cy="118.0" rx="12.0" ry="9.0" fill="#ff2600" filter="url(#b2)"/>
<ellipse cx="757.0" cy="188.0" rx="22.0" ry="13.0" transform="rotate(35.0 757.0 188.0)" fill="#fff200" filter="url(#b2)"/>
<ellipse cx="792.0" cy="219.0" rx="18.0" ry="9.0" transform="rotate(40.0 792.0 219.0)" fill="#ffec00" filter="url(#b2)"/>
<ellipse cx="846.8" cy="207.9" rx="9.0" ry="9.0" fill="#ff6600" filter="url(#b4)"/>
<ellipse cx="800.0" cy="170.0" rx="30.0" ry="10.0" transform="rotate(-10.0 800.0 170.0)" fill="#ffa600" filter="url(#b2)"/>
<ellipse cx="540.0" cy="347.0" rx="85.0" ry="6.0" transform="rotate(-31.0 540.0 347.0)" fill="#ff9f00" filter="url(#b2)"/>
<ellipse cx="610.0" cy="300.0" rx="40.0" ry="5.0" transform="rotate(-27.0 610.0 300.0)" fill="#ffa600" filter="url(#b2)"/>
<ellipse cx="511.9" cy="369.2" rx="7.0" ry="6.0" fill="#ff9300" filter="url(#b4)"/>
<ellipse cx="443.9" cy="393.3" rx="48.0" ry="7.0" transform="rotate(-15.0 443.9 393.3)" fill="#fff500" filter="url(#b2)"/>
<ellipse cx="432.9" cy="349.4" rx="9.0" ry="8.0" fill="#ffb300" filter="url(#b4)"/>
<path d="M154.4,666.4A4671,4671 0 0 0 958.6,666.4M166,531A4535.1,4535.1 0 0 0 946.9,531M177.7,396.2A4399.8,4399.8 0 0 0 935.2,396.2M189.3,261.3A4264.5,4264.5 0 0 0 923.6,261.3M201,125.8A4128.4,4128.4 0 0 0 911.9,125.7M340.5,107.7L307.3,738.9M484.4,112.7L473.3,744.7M628.3,112.7L639.3,744.7M772.1,107.7L805.3,738.9" fill="none" stroke="#3a3000" stroke-opacity="0.45" stroke-width="0.55" stroke-dasharray="2 6.4"/>
<g fill="none" stroke="#5c4812" stroke-linejoin="round" stroke-linecap="round">
<path stroke-width="1.2" d="M246.5,381.9 251.9,367.7 257.4,354.5 262.5,343.6 263.3,332.6 262.9,319.4 260.7,308.5 259.6,297.5 261.8,286.5 266.2,277.7 272.8,267.9 282.6,259.1 293.6,252.5 304.6,248.1 315.6,243.7 324.3,238.7 330.9,232.8 339.7,226.2 348.5,220.7 357.2,217.4 366,215.9 374.8,214.8 383.6,214.1 392.3,215.2 398.9,218.1 405.5,221.1 414.3,222.9 420.8,221.8 427.4,219.6 434,220.7 440.6,225.1 446.1,230.6 451.6,235 458.1,238.3 466.9,238.7 475.7,237.2 482.3,233.9 486,231.7 M260.7,294.2 254.1,292 248.6,289.8 251.9,287.6 256.3,286.5 261.8,286.5 M266.2,277.7 257.4,273.4 262.9,272.3 267.3,274.5 M272.8,267.9 266.2,265.7 270.6,262.4 275,263.5 277.2,260.2 279.4,254.7 281.6,258 282.6,259.1 M293.6,252.5 285.9,250.3 284.8,244.8 288.1,243.7 290.3,248.1 293.6,244.8 298,244.8 296.9,249.2 300.2,248.8 M330.9,232.8 328.7,230.6 333.1,229.5 337.5,225.1 334.2,219.6 335.3,214.1 341.9,211.9 344.1,215.2 343,219.6 348.5,220.7 M368.2,214.1 367.1,209.7 369.3,205.8 372.1,206.5 371.5,211.9Z M382.5,213 383.6,207.5 385.3,203.6 387.1,207.5 386.2,211.9Z M398.9,208.6 403.3,208 404.4,211.9 400,211.9Z M405.5,214.1 411,213.7 411.6,217.4 406.6,217.4Z M417.6,217.4 420.8,214.1 427.4,213.7 430.7,216.3 427.4,219.6 431.8,222.9 428.5,225.1 424.1,222.9 420.8,221.8 M434,220.7 438.4,218.5 443.9,222.9 447.2,225.1 445,228.4 M471.3,202.1 473.5,197.7 480.1,196.1 486,197.7 486,206.5 477.9,207.5 472.4,205.4Z M465.8,199.9 468,197.7 470.9,199.2 469.5,202.7 466.9,202.7Z M472.4,217.4 475.7,214.6 477.9,215.9 476.1,219.6 473.1,219.6Z M244.3,258 245.8,261.3 247.1,264.6 M374.7,161.8 376.3,158.5 373,156.9 M196.6,295.1 200.8,300.1 199.1,303.3 203.2,305 201.9,309.1 204.9,312.1 206.2,306.6 M204.1,323.9 207.3,323.1 210.1,321.9 208.2,325.6 207.3,328.8 M244.4,258.1 247.7,264.7 M440,209.2 444.4,214.7 449.9,216.9 M440,222.4 443.3,225.7 446.6,232.3 451,235.6 455.4,238.8 461.9,239.9 468.5,237.7 472.9,234.5 477.3,236.6 480.6,234.5 483.9,230.1 M487.2,227.9 490.5,231.2 495.9,234.5 500.3,238.8 502.5,244.3 500.3,245.4 505.8,239.9 510.2,241 512,236.6 508,234.5 504.7,231.2 499.2,227.9 494.8,225.7 M471.8,197.2 476.2,195.6 481.7,196.5 487.2,200.5 489.4,204.4 483.9,207.5 477.3,207.5 472.5,204.8 470.3,201.6Z M465.4,200.9 466.8,198.3 469.4,198.3 470.7,200.9 469.4,203.5 466.8,203.5Z M472.9,215.8 476.2,214.1 478.4,216.9 475.1,219.8Z M489.4,203.7 494.8,201.6 500.3,198.3 505.8,196.5 514.6,195.6 523.4,196.5 529.9,197.2 536.5,196.5 538.3,195 538.7,189.5 540.5,184 542.7,184.7 543.5,190.6 545.3,196.1 547.5,199.4 543.1,201.6 539.8,202.2 538.3,199.4 M547.5,200 554.1,198.7 562.8,196.5 571.6,195.6 580.4,195.4 589.2,196.5 595.7,198.7 602.3,202.6 608.9,207.5 614.4,211.9 617.7,214.7 618.1,218.4 621,220.6 626.5,221.3 629.8,222.4 633,219.8 637.4,215.8 642.9,212.5 648.4,208.1 653.9,204.8 659.4,204.8 M565,195 566.1,190.6 569.4,189.9 571.2,192.8 571.6,195.6 M621,218 626.5,219.1 633,215.8 M629.8,177.4 630.8,182.9 634.1,184 636.3,180.7 639.2,180.3 637.4,182.9 M660,205.5 666.6,209.9 672.1,215.4 676.5,220.8 681.9,226.3 686.3,232.9 688.5,237.3 686.3,236.2 690.7,235.1 695.1,236.2 697.3,240.6 699.5,246.1 700.6,252.6 699.9,259.2 698.4,265.8 696.2,270.2 696.2,275.7 698.4,281.2 700.6,287.7 702.8,294.3 706.1,299.8 709.4,305.3 712.6,309.7 715.9,314.1 717.5,325.5 721.4,327.2 725.8,327.2 728,332.7 730.2,339.3 734.6,343.7 741.2,347 746.6,350.3 749.9,354.7 751,360.1 752.1,365.6 756.5,368.9 763.1,370 769.7,368.9 774.1,365.6 777.4,360.1 779.6,353.6 780.7,347 781.1,340.4 781.3,331.6 781.7,322.8 781.3,314.1 780.2,307.5 778,300.9 775.2,294.3 771.9,286.6 768.6,279 765.3,271.3 762.7,263.6 759.8,257 756.5,250.5 753.2,242.8 749.9,236.2 746.6,228.5 743.4,220.8 740.7,213.2 738.5,206.6 736.8,200 M696.2,275.7 700.6,274.6 705,275.7 708.3,277.9 707.2,283.4 703.9,285.6 706.1,289.9 702.8,291 700.6,287.7 M713.7,308.6 718.1,307.5 722.5,308.6 719.2,311.9 720.3,317.4 723.6,320.7 726.9,318.5 724.7,323.9 721.4,327.2 M778.5,349.2 775.8,353.6 775.2,360.1 777.4,363.4 M755.4,251.6 757.6,257 760.9,262.5 762,254.8 759.8,251.6 755.4,251.6 M763.1,265.8 766.4,274.6 769.7,282.3 773,289.9 776.3,297.6 778.5,303.1 M728,200 726.9,205.5 730.2,211 729.1,217.5 729.8,223 M728.4,228.5 729.3,224.6 731.5,223.7 733.3,227.4 732.8,231.8 730.2,233.3Z M723.6,247.2 726.9,248.3 725.8,250.9 M729.1,252.6 730.6,250.9 732.8,252.2 732,254.8 729.8,254.8Z M746.6,246.5 748.8,250.5 751,252.6 M742.3,262.5 740.1,265.8 739,270.2 741.2,273.5 M741.2,275.7 743.4,274.1 745.1,276.8 743.4,279.4Z M737.9,280.1 739.4,281.6 M741.6,294.8 742.9,292.1 744.7,293.2 744.7,296.5 742.9,297.6Z M749.9,307.5 753.2,302 758.3,299.8 762.7,303.1 763.5,309.7 760.9,315.8 757.6,316.7 756.5,313 752.1,311.9Z M773,298.7 776.3,301.3 M812.5,313 816.8,317.4 822.3,320.2 828.9,318.5 835.5,316.3 842.1,314.1 846.5,312.3 845.4,309.7 838.8,310.8 833.3,313 827.8,314.1 824.5,309.7 826.7,306.4 823.4,307.5 822.3,313 817.9,314.1 812.5,313 M828.9,293.9 835.5,296.5 842.1,299.2 848.7,301.3 854.1,303.1 859.6,306.4 865.1,310.8 870.6,314.1 874.5,319.6 873.9,325 870.6,329.4 868.4,334.9 869.5,339.3 862.9,333.8 867.3,329.4 865.1,322.8 866.2,316.3 861.8,311.9 857.4,308.6 850.8,305.3 846.5,304.9 845.4,309.7 M636.5,483.1 641.9,480.5 648.5,478.3 654,476.5 655.1,472.1 652.5,467.7 654,463.4 658.4,460.1 663.9,455.7 670.5,451.3 678.1,447.6 685.8,444.7 694.6,442.5 703.4,440.3 712.1,438.1 720.9,437.5 729.7,437.5 738.5,437.5 741.7,440.3 747.2,437.5 753.8,434.8 760.4,433.3 769.2,434.4 777.9,436.6 786.7,439.2 795.5,443.2 802.1,447.6 808.7,452 815.2,454.6 824,453.5 832.8,454.1 841.6,456.8 850.3,461.2 859.1,466.6 867.9,473.2 876,478.7 M808.7,453.5 815.2,457.9 824,458.5 832.8,460.1 841.6,463.4 850.3,467.7 859.1,473.2 867.9,478.7 876,483.1 M636.5,483.1 640.8,485.3 648.5,483.1 651.8,486.4 656.2,483.1 661.7,480.9 666.1,482 667.2,476.5 671.6,473.2 678.1,472.1 684.7,471 690.2,466.6 695.7,461.2 701.2,456.8 705.6,454.6 712.1,454.1 720.9,454.1 729.7,454.6 736.3,455.7 738.9,459 737.4,462.3 731.9,463.4 725.3,462.9 723.1,464.5 727.5,467.7 734.1,469.9 742.8,472.1 751.6,473.2 753.8,467.7 754.9,472.1 760.4,473.9 769.2,473.9 776.8,474.3 782.3,477.6 787.8,480.9 793.3,482.7 799.9,484.9 806.5,486.4 813,487.9 819.6,487.5 826.2,485.7 830.6,484.9 833.9,487.5 836.1,491.9 838.3,498.5 841.6,503.9 847,508.3 852.5,511.6 859.1,513.4 867.9,512.7 876,513.4 M695.7,482 700.1,479.8 705.6,480.5 708.8,483.1 710.4,488.6 712.1,493 707.7,495.2 701.2,496.3 695.7,495.2 692,492.3 693.5,489.2 696.8,489.7 695.7,485.3Z M677.5,479.2 685.8,480.5 M699,474.3 704.5,476.5 708.8,478.7 709.9,482 M706.6,455.7 708.8,459 M716.5,460.1 719.8,464.5 M696.8,388.8 699.4,389.2 M751.2,566.5 753.8,565.4 760.4,566 758.2,567.8 752.7,568.2Z M876,530.9 870.1,534.7 866.8,542.3 871.2,542.8 876,541.2 M831.7,381.4 836,378 840.3,372.8 842,366.8 840.3,362.6 842,359.1 845.4,362.6 848,368.6 851.4,374.6 855.7,380.6 857.4,384.8 859.1,391.7 862.5,398.6 864.6,405.4 863.4,411.4 859.1,414 854.8,411.4 856.5,406.3 853.1,402 849.7,396.8 847.1,392.6 842.8,389.1 838.6,386.6 834.3,384 831.7,381.4 M866,408 870.3,414.8 M809.4,357.4 811.1,363.4 M860.8,366.8 865.1,364.3 871.1,362.9 878,360.5 872.8,364.3 867.7,368 862.5,368.6Z M879.7,350.6 883.1,347.7 887.4,348 888.3,351.4 893.4,354 898.5,357.4 902.8,361.7 904.5,366.8 903.7,372.8 904.5,378 901.1,374.6 902,368.6 901.1,363.4 896.8,359.1 891.7,355.7 886.5,353.1 883.1,353.1 880.5,357.4 879.7,350.6 M862.5,333.4 866.8,330 869.4,338.6 865.1,336Z M910.5,378.8 914.8,379.7 M916.5,374.9 920,376.3 923.4,381.4 926.8,385.7 931.1,389.1 932,392.6 925.1,392.6 928.5,390 924.2,384.8 920.8,380.6 917.4,377.1 916.5,374.9 M853.1,470 859.1,473.4 866,476.9 872.8,479.4 879.7,482.9 883.1,485.4 890,488 895.1,490.6 902,491.4 908.8,492.3 915.7,495.7 920.8,495.7 926,494 930.2,495.7 932,500.8 929.4,504.3 926.8,506 928.5,508.6 934.5,509.1 941.4,508.6 944,506.8 M770,473.1 776.9,472.6 782,476.9 787.1,480.3 792.3,482 799.1,483.4 806,485.4 812.8,487.1 818,488 823.1,486.3 828.3,484.6 832.6,485.1 836,488.9 838.6,495.7 840.3,501.7 843.7,505.1 848.8,508.6 854,512 860.8,513.7 867.7,513.7 872.8,512.8 878,512.5 882.3,515.4 885.7,518.8 886.2,522.3 883.1,526.6 878.8,529.1 874.5,532.6 870.3,536 866.8,540.3 867.7,543.4 872.8,542 879.7,540.3 886.5,538.6 893.4,537.4 900.2,536 907.1,534.8 914,533.8 920.8,533.8 926,532.6 931.1,534.3 938,534.8 946.5,534.4 M828.3,485.4 827.4,488.9 830,492.3 831.7,489.7 M850.2,596 852.3,592 857.4,589.6 864.3,587.4 872.8,587.4 881.4,587.9 890,588.3 896.8,589.1 902,592 908.8,594.3 914.8,596.5 919.1,601.1 921.2,604 916.5,605.4 910.5,606.8 905.4,605.4 901.1,603.7 899.4,606.2 895.1,607.1 891.7,607.1 893.4,611.4 890,613.1 887.4,610.5 883.1,609.7 876.3,609.7 871.1,608.8 867.7,605.4 864.3,602 860,599.4 854.8,598.5Z M245.7,370 242.4,378.8 240.2,389.7 239.6,400.7 238.7,411.7 237.6,422.6 236.5,433.6 234.7,442.4 233.6,449 234.3,457.7 235.2,466.5 236.9,473.1 240.2,478.6 244.6,483 247.9,486.3 245.7,489.6 244,493.9 245.7,501.6 249,510.4 253.4,519.2 258.9,526.8 264.4,533.4 269.8,541.1 273.1,548.8 274.2,556.5 275.3,561.9 M240.2,480.8 244.6,485.2 M224.9,457.7 226.4,454.5 228.2,456.6 227.3,461Z M230.4,463.9 232.1,462.1 233.9,464.3 232.5,466.5Z M471,510.4 467.3,514.8 465.1,521.4 462.9,530.1 461.8,538.9 460.7,547.7 457.4,554.3 454.5,561.9 M272.8,550 275,558.8 279.4,565.4 282.6,570.8 286.6,576.3 290.3,581.8 295.8,583.3 303.5,584 309,585.1 313.4,588.4 316.6,590.6 322.1,591.7 325.4,597.2 328.7,602.6 333.1,604.8 339.7,603.7 348.5,601.6 357.2,598.7 366,596.7 374.8,596.5 383.6,595 390.1,592.1 398.9,590.6 407.7,589.5 414.3,589.5 411,593.9 416.5,596.1 425.2,598.7 431.8,595 436.2,589.5 435.1,586.9 428.5,587.3 420.8,590.6 414.3,592.8 M428.5,586.2 436.2,580.7 443.9,575.2 450.5,569.7 453.8,563.2 454.9,556.6 460.3,551.1 462.5,550 M283.7,591.7 283.1,587.7 285.9,587.3 287.5,589.9 M311.4,595.6 312.5,594.1 314.7,594.3 315.6,596.1 314,597.4 312,597.2Z M322.4,617.1 323.4,614.5 325.6,614.1 326.7,616.7 325.9,619.8 323.7,620.2Z M261.8,592.8 265.1,592.1 269,596.1 271.2,600.9 268.4,603.3 264.7,600.9 262.9,597.2Z M295.8,656.4 293.6,661.4 298.7,661.4Z M384.7,677.2 387.9,681.6 391.2,679.4 M446.1,630.1 445,626.8 448.3,624.1 450,623.5 M431.8,727.7 432.9,724.8 435.8,724.4 437.1,727.7 434.4,726.6Z M302.4,671.7 309,669.6 317.7,670 326.5,671.7 335.3,675 344.1,678.3 351.7,682.7 359.4,689.3 367.1,697 374.8,705.7 383.6,715.6 392.3,724.4 401.1,733.2 412.1,741.3 M156.3,639.9 160.5,642.3 167,644 173.6,645.6 181.8,648.1 188.4,650.6 193.4,655.5 198.3,659.6 204.9,662.9 211.5,667 218,671.1 M211.5,570.4 213.9,572.4 216.4,571.6 M218,671.2 229.6,674.5 239.4,677.8 249.3,682.7 259.2,686 269,686 278.9,681.9 288.8,678.6 298.7,675.3 303.6,672 M440,578.6 446.6,574.2 452.1,568.7 454.9,562.1 455.4,555.6 458.6,551.2 461.5,545.7 461.9,538 461.9,529.2 463,521.6 466.3,515 470.7,510.6 477.3,507.3 486.1,504.7 494.8,502.9 503.6,501.4 512.4,499.6 520.1,496.8 527.7,494.6 536.5,493 545.3,494.6 554.1,496.8 560.7,498.5 566.1,498.1 569.4,493.7 572.7,494.6 576,498.5 578.6,502.9 580.4,507.7 578.6,512.8 576.4,518.3 573.8,523.7 570.5,528.8 566.1,533.6 561.7,538.4 558.5,544.6 557.4,551.2 558.5,554.5 553,556.6 549.2,558.8 549.7,563.2 554.1,563.9 558.5,561 559.6,564.3 556.3,567.6 554.1,569.8 550.8,573.1 553,575.3 556.3,573.1 555.2,577.5 554.1,584.1 551.9,591.7 549.2,599.4 547.1,606 544.9,612.6 542,619.2 539.8,625.7 537.6,632.3 536.5,638.9 535.4,645.5 534.3,654.3 533.2,661.9 M559.6,496.8 562.8,495.2 567.2,495.9 566.8,498.5 561.7,499.2Z M571.6,535.8 572.7,531.4 576,528.1 580.4,527.5 579.3,532.5 576,536.9 572.7,538.4Z M577.1,496.3 579.3,500.7 580.4,505.1 M538.7,586.3 536.1,591.7 533.2,597.2 529.9,601.2 527.7,603.8 533.2,603.4 537.6,601.6 542,600.5 543.5,604.9 540.9,610.4 537.6,615.9 534.3,621.4 532.1,626.8 531,632.3 529.9,638.9 528.8,645.5 529.5,652.1 531,658.7 M538.7,586.3 540.5,592.8 539.2,598.3 542,600.5 M556.3,634.1 556.7,635 M554.1,643.3 554.9,644 M546.4,658.7 547.5,658 M444.4,627.9 446.6,624.7 449.9,623.6 M445.5,630.1 446.1,630.8 M456.5,629 457.3,629.3 M442.2,640.7 443.1,640.9 M461.9,651 463.3,650.5 M467.4,646.6 469.2,646.8 M672.5,634.1 673.8,634.1 M636.3,484.3 641.8,482.1 648.4,479.9 653.9,477.7 657.2,478.8 653.9,482.1 650.6,486.5 656.1,485.4 661.6,482.1 667,478.8 668.1,473.3 674.7,472.2 681.3,471.1 685.7,470 M636.3,484.3 638.5,485.8 644,484.3 649.5,482.1 M653.9,470 656.1,475.5 657.2,478.8 M692.3,483.2 693.4,490.8 696,494.1 M528.3,669.1 523.9,673.5 518.4,676.8 514,680.1 509.6,683.4 510.3,687.3 512.9,689.5 508.5,693.2 503,697.6 497.5,699.8 494.3,700.9 496.5,704.9 501.9,703.1 507.4,698.7 512.5,694.3 516.2,689.9 519.5,693.2 522.8,687.7 528.3,689.9 534.8,693.9 540.3,689.9 545.8,687.3 552.4,686.6 553.5,690.4 560.1,688.8 567.7,690.4 576.5,691 585.3,689.9 594.1,688.8 600.7,686 606.1,683.4 611.6,684.5 617.1,686.6 623.7,687.7 630.3,686 636.8,683.4 643.4,685.6 648.9,687.7 655.5,688.2 661,688.8 665.4,693.2 669.8,697.6 674.1,700.9 679.6,703.5 686.2,705.7 691.7,707.9 696.1,712.3 700,715.8 696.1,719.6 696.1,726.1 697.2,732.7 698.3,739.3 697.2,742.6 M533.7,657 531.6,663.6 528.3,669.1 M533.7,621.9 531.6,628.5 530,635.1 529.4,642.8 532.6,647.2 533.7,641.7 534.8,632.9 535.9,624.1 M530.5,650.5 529.4,657 530.9,663.6 533.7,665.8 535.9,661.4 M545.8,658.1 547.1,657.5 M533.7,675.7 534.6,675 M542.5,699.8 543.6,699.8 M667.6,700.5 669.8,698.7 675.2,701.3 680.7,704.9 686.2,707.1 679.6,708.6 673,705.3 668.7,704.2Z M691.7,720.7 693.9,718.5 696.1,721.7 693.9,727.2 691.7,723.9Z M694.5,737.1 697.2,736 698.3,740.4 695.4,741.5Z M723.5,684.5 723.9,685.1 M538.1,720.7 539.7,719.6 541.4,722.4 540.1,725Z M779.1,108.3 775.7,111.4 772.3,114.5 767.1,117.4 762,119.1 758.6,123.4 755.1,126.8 750.8,130.3 748.3,134.6 744.8,138.8 741.4,143.1 739.7,147.4 738,152.6 736.3,157.7 734.2,162 732,166.3 731.5,171.4 732.5,176.5 733.2,182.5 734.2,188.5 735.9,195.4 737.6,202.3 739.7,209.1 742.3,216 744.8,222.8 748.3,229.7 751.7,236.5 756,243.4 757.7,246 M730.3,192 728.6,197.1 728,202.3 729.4,207.4 731.1,212.5 730.3,217.7 729.1,220.3 M729.1,228.3 728.7,224.5 730.4,223.2 732.5,225.4 733.2,230.5 731.8,233.6 729.8,232.8Z M742.3,244.2 744,245.1"/>
<path stroke-width="2.2" d="M258.1,295.3 255.4,304.1 255.2,312.8 257.4,326 260.3,335.9 M259.6,296.4 255.9,293.5 260.7,290.5 256.8,287.8 262.9,284.8 260.3,281.3 266.2,278.2 262.5,275.1 269.5,272.5 266.9,268.1 273.9,267.2 272.1,262.8 279.4,262 277.8,256.2 284.8,256.2 285.3,251.9 292.5,253 293.2,248.4 300.2,249.7 302.4,246.2 309,246.2 312.3,244.4 M262.9,282.1 273.9,266.8 284.8,256.9 295.8,251.4 304.6,248.1 M326.5,237.2 329.8,233.9 328.3,231.2 333.1,229.9 335.3,226.9 339.7,226.2 340.8,222.9 345.2,222.9 347.4,220.3 350.7,219.6 M418.7,220.7 423,218.1 426.3,220.7 430.7,219 432.9,222.5 437.3,222.9 439.5,226.9 443.9,227.3 446.1,231.2 450.5,232.8 452.7,236.5 458.1,237.2 M329.8,231.7 337.5,226.2 344.1,222.5 M435.1,207.5 437.3,210.2 M439.5,210.8 442.8,215.2 449.4,217.4 M443.9,229.5 449.4,233.9 453.8,236.5 M243.2,380.8 244.3,369.9 246.5,358.9 250.8,353.4 M242.1,361.1 249.7,355.6 M366.4,137.1 371.4,143.7 373,150.3 376.3,155.2 378,161.8 379.1,165.9 M237,166.7 239.1,169.2 237.8,170.9 M237.4,176.6 239.4,177.8 M199.9,300.9 202.9,305.8 204.1,310.7 M254.8,291.3 253.2,296.8 255.4,301.2 253.7,306.6 257,311 255.9,317.6 259.2,322 258.5,328.6 262,333 262.5,336.7 M241.6,358.6 245.3,353.8 251.5,352.7 253.2,356.4 248.9,361.5 250.4,365.2 245.3,369.6 246.7,374.6 242.3,379 243.2,384.5 239.6,388.5 240.5,394.4 238.3,400.3 M196.6,295 201.5,299 199.9,302.9 205,305.5 202.8,309.9 205.9,311 M204.5,324.2 209.4,322.7 207.6,328.6 M218.6,451.4 219.5,452.5 M224.7,454.7 227.4,458 225.6,461.3 M487.2,207.5 491.6,209.2 489.4,212.5 M553,198.7 556.3,195.6 559.6,196.5 M582.6,195 587,193 593.6,193.2 596.2,195.6 M699,245 700.8,251.6 M699.5,276.8 703.9,280.1 702.8,284.5 M715.9,315.2 718.1,322.8 722.5,326.1 M774.1,368.9 769.7,373.3 763.1,377.7 756.5,381 M740.1,246.1 743.4,247.2 742.3,249.4 M835.5,301.3 838.8,303.1 M652.9,466.6 658.4,460.7 665,455.7 671.6,451.3 M707.7,482 710.4,487.5 712.1,490.8 M712.1,487.5 718.7,489.7 725.3,488.6 731.9,487.5 M810.8,502.8 817.4,506.1 826.2,509.4 M791.5,552.9 796.6,551.5 M798.8,551.1 804.3,549.4 M846.3,341.7 850.5,342.9 853.6,347.1 854,352.3 850.5,355.7 846.3,354 M806,345.4 805.6,350.6 807.7,354 M880.5,349.7 886.5,350.2 M902.8,364.3 903.7,374.6 M883.1,372 884,378 887.4,384 892.5,389.1 896.8,395.1 901.1,400.3 905.4,405.4 909.7,409.7 913.1,412.3 M931.1,408 933.7,410.5 935.9,415.7 M772.6,409.7 776.9,407.1 782,405.4 M791.4,553.1 796.6,551.4 M798.3,551.9 804.3,549.3 M247.9,370 243.5,381 241.3,391.9 239.6,402.9 238.3,410.6 M236.9,473.1 238,479.7 241.3,486.3 244,492.8 M404.8,512.6 407.6,514.8 M412.1,593.9 421.9,589.9 431.8,585.5 M288.8,580.7 292.5,583.3 M351.7,601.6 359.4,599.4 M373.7,597.2 375.9,598.7 M350.7,641.7 352.8,638.8 358.3,638.2 362.7,641 366.4,644.8 M379.2,671.7 383.6,668.5 384.7,672.8 390.1,676.1 393.4,673.9 396.7,679.4 402.2,681.6 405.5,684.9 403.3,687.1 M473.5,649.8 479,648.7 484.5,649.2 480.1,651.3 M307.9,669.6 312.9,670 M157.2,640.2 160.5,642.2 M463,522.6 465.9,515 M533.2,641.1 536.5,645.5 534.3,652.1 536.5,658.7 M550.8,562.1 555.2,558.8 M551.9,572 555.2,569.8 M474,648.8 478.4,651 483.9,648.8 M493.7,646.6 496.6,646.8 M678,479.2 685.7,479.9 M517.3,686.6 520.6,692.1 M552,687.3 554.6,690.4 M605.5,682.9 611.6,684.7 M648.9,688.2 655.5,689.1 M671.7,634 673.5,634.2 M572.1,680.3 576.5,679 M486.6,742.1 491,740.8 M480,649.1 484.4,650 M493.2,646.5 496.5,647.2 M775.7,111.4 770.5,116.2 765.4,117.9 759.4,119.1 757.7,124.3 753.4,126 749.1,121.7 750.8,129.4 746.6,132.8 747.4,137.1 743.1,138.8 741.4,144.8 737.1,147.4 738.8,153.4 735.4,155.1 736.3,160.3 732,162 732.8,166.3 728.6,165.4 731.1,171.4 732,178.3"/>
<path stroke-width="1.6" stroke-dasharray="1.5 2.5" d="M516.8,208.1 517.2,213.6 514.6,220.2 510.2,224.6 505.8,227.9 M505.8,202.6 512.4,202 520.1,202 528.8,202.6 532.1,202.2 536.5,201.8 M853,322.8 856.3,327.2 858.5,331.6 M735.2,488.6 742.8,487.9 747.2,487.5 753.8,487.9 759.3,487.1 M702.3,467.7 705.6,471 M824,502.8 828.4,505 835,507.2 M810.3,336.9 814.6,336.5 819.7,337.7 M935.4,423.4 929.4,426 923.4,430.3 919.1,434.5 917,440.5 918.2,446.5 920.8,452.5 923.4,457.7 925.1,461.1 M790.6,404 794,408.8 797.4,414 800.8,419.1 804.3,423.4 M824.8,503.4 829.1,504.3 833.4,502.6 835.1,506.8 830.8,507.7 828.3,510.3 836.8,511.1 850.5,517.1 855.7,519.7 860.8,518.8 862.5,524.8 868.5,520.6 M216.1,462.1 219.4,463.9 222.7,464.3 M561.1,590.2 561.1,596.1 M556.8,634 554.6,643.9 M702.7,731.6 705.9,734.3 710.3,732.7 713.6,736 708.1,738.2 704.9,740.4 712.5,730.5 716.9,728.3 719.1,731.6 715.8,726.1 M714.7,707.5 718,706.4 720.2,709.7 716.9,711.4 M691.7,680.1 693.9,682.3 695,686.6 M702.7,689.9 705.9,689.5 705.5,696.5"/>
<g stroke-width="1" fill="#5c4812" fill-opacity="0.8">
<path d="M453.8,239.4 459.2,236.1 464.7,232.8 471.3,231.7 474.6,235 472.4,239.4 465.8,240.9 459.2,240.9Z"/>
<path d="M475.7,225.1 482.3,222.9 486,226.2 486,233.9 481.2,235 477.9,230.6Z"/>
<path d="M464.1,233.4 469.6,231.2 474,234.5 472.9,239.9 466.3,240.4Z"/>
<path d="M476.2,224.1 482.8,224.6 489.4,227.2 487.2,233.4 481.7,235.1 479,230.1Z"/>
<path d="M499.2,236.6 503.6,234.5 510.2,236 512,239.9 506.9,241.7 503.6,244.8 499.7,246.1Z"/>
<path d="M491.6,220.2 493.7,214.7 497.5,209.2 503.6,204.8 506.9,206.6 505.8,213.6 502.5,219.1 498.1,222.4 495.9,227.9 492.6,225.7Z"/>
<path d="M604.5,199.4 608.9,198.7 613.3,200.9 615.5,205.9 618.1,209.2 614.4,210.3 610,205.9 606.3,203.7Z"/>
<path d="M730.6,340.4 735.7,342.6 743.4,346.5 748.8,350.9 747.7,353.6 741.2,350.3 734.6,346.5Z"/>
<path d="M749.9,361.2 755.4,362.3 758.7,365.6 756.5,368.9 751.7,366.7Z"/>
<path d="M757.6,368.9 763.1,367.2 769.7,365.6 774.5,364.5 773,370 767.5,373.3 762,374.4 758.7,372.2Z"/>
<path d="M757.6,380.3 747.7,382.5 739,384.9 730.2,387.6 722.5,389.8 721.9,391.5 732.4,390 741.2,387.6 749.9,384.9 758.1,382.1Z"/>
<path d="M822.8,307.9 826.7,306.6 828.9,310.8 827.2,314.1 823.4,313Z"/>
<path d="M858.5,306.4 865.1,310.8 870.6,314.1 874.5,319.6 873.2,325.5 870.2,328.3 868.4,322.8 866.2,317.4 861.8,313Z"/>
<path d="M751.6,434.8 760.4,432.6 771.4,433.7 782.3,435.9 793.3,440.3 802.1,445.8 808.7,450.6 806.5,452.8 798.8,448.4 788.9,443.6 777.9,441.4 769.2,438.8 760.4,437.5 753.8,437.5Z"/>
<path d="M813,451.3 820.7,449.1 828.4,450.2 837.2,453.5 845.9,457.2 854.7,462.3 862.4,467.7 860.2,469.5 851.4,464.5 842.7,460.1 833.9,457.2 825.1,455.7 816.3,455.7Z"/>
<path d="M850.3,461.2 859.1,466 867.9,472.1 876,477.6 876,482 866.8,476.5 858,471 850.3,466Z"/>
<path d="M727.5,467.3 734.1,468.8 742.8,470.4 751.6,471.7 753.4,474.8 746.1,475.4 738.5,474.3 731.9,472.1Z"/>
<path d="M826.2,508.3 835,511.6 843.8,515.6 852.5,519.3 861.3,522.6 860.2,525.2 851.4,522.1 842.7,518.6 833.9,514.9 826.2,511.2Z"/>
<path d="M836.5,379.4 840.3,374.9 841.3,380 839.2,382.8Z"/>
<path d="M848,390 854,387.4 858.3,390 860.8,398.6 858.3,402.8 854,401.1 850.5,396Z"/>
<path d="M854.8,406.3 860.8,405.4 864.6,407.1 863.4,411.9 859.1,414.3 854.8,411.9Z"/>
<path d="M839.4,361.7 842,358.8 845.4,362.2 842.8,365.1Z"/>
<path d="M909.7,409.7 914,412.3 919.1,414 926,415.7 930.2,417.4 924.2,418.1 915.7,418.1 909.7,418.1 913.6,415.2Z"/>
<path d="M853.1,470 859.1,471.7 866,475.1 872.8,478.2 879.7,481.7 883.1,484.6 881.4,487.1 875.4,483.7 868.5,480.6 861.7,477.2 855.7,473.8Z"/>
<path d="M890,488 895.1,489.2 902,490.9 902.8,493.1 896.8,493.1 890.8,490.6Z"/>
<path d="M926.8,504.3 931.1,503.4 935.4,506.8 941.4,506.8 944,506.3 943.4,509.4 934.5,509.8 928.5,509.1Z"/>
<path d="M810.3,502.2 816.3,505.1 823.1,508.6 830,512.8 836.8,515.4 843.7,518 846.8,521.1 842.8,520.6 836,518 829.1,515.4 822.3,511.5 815.4,508 810.3,504.3Z"/>
<path d="M843.7,506 848.8,509.4 854,512.8 859.1,514.9 866,514.2 865.1,516.3 859.1,517.1 853.1,515.9 848,512.8 843.7,509.8Z"/>
<path d="M539.8,614.8 543.1,609.3 545.7,610.4 543.5,617 540.9,621.4Z"/>
<path d="M531,626.8 534.8,624.7 537.6,627.9 536.1,634.5 532.1,636.7Z"/>
<path d="M542,643.3 544.2,636.7 547.5,630.1 547.5,636.7 545.3,643.7Z"/>
<path d="M515.1,675.7 519.5,674.1 521.2,676.8 517.3,679Z"/>
<path d="M530.9,627.4 534.4,625.9 536.2,630.7 534.4,636.2 531.6,635.1Z"/>
<path d="M583.5,673.5 589.7,669.8 596.3,668 601.1,667.6 600.7,669.3 595.2,670.6 589.7,672.4 584.9,675Z"/>
<path d="M606.8,667.1 609.4,665.8 611.2,667.1 609,669.3Z"/>
</g>
</g>
</g>
<path d="M196.2,89.6A4092.8,4092.8 0 0 0 916.1,89.6L973.1,735.8A4741.5,4741.5 0 0 1 139.2,735.8Z M203.4,98.2A4100.7,4100.7 0 0 0 909.5,98.1L963.9,727.8A4732.7,4732.7 0 0 1 149,727.9Z" fill="#fff" fill-rule="evenodd" stroke="none"/>
<path d="M196.2,89.6A4092.8,4092.8 0 0 0 916.1,89.6L973.1,735.8A4741.5,4741.5 0 0 1 139.2,735.8Z M196.2,89.6L203.4,98.2 M916.1,89.6L909.5,98.1 M139.2,735.8L149,727.9 M973.1,735.8L963.9,727.8 M269.3,95.4L268.7,103.3 M223.8,742.5L224.4,733.8 M340.9,99.8L340.5,107.7 M306.8,747.6L307.3,738.9 M412.7,103L412.4,110.8 M389.9,751.3L390.2,742.5 M484.5,104.9L484.4,112.7 M473.1,753.4L473.3,744.7 M556.3,105.5L556.3,113.4 M556.3,754.2L556.3,745.4 M628.1,104.9L628.3,112.7 M639.5,753.4L639.3,744.7 M699.9,103L700.2,110.8 M722.7,751.3L722.4,742.5 M771.7,99.8L772.1,107.7 M805.8,747.6L805.3,738.9 M843.3,95.4L843.9,103.3 M888.8,742.5L888.2,733.8 M194.6,108L202.5,108.7 M917.7,108.1L910.4,108.7 M193.1,125.1L201,125.8 M919.2,125.1L911.9,125.7 M187.1,193L195.2,193.7 M925.2,193L917.7,193.7 M181.1,260.6L189.3,261.3 M931.2,260.6L923.6,261.3 M175.2,328.1L183.5,328.8 M937.1,328.1L929.4,328.8 M169.2,395.4L177.7,396.2 M943.1,395.5L935.2,396.2 M163.3,462.8L171.9,463.6 M949,462.8L941.1,463.5 M157.3,530.2L166,531 M955,530.3L946.9,531 M151.4,597.8L160.2,598.6 M960.9,597.8L952.7,598.6 M145.4,665.6L154.4,666.4 M966.9,665.6L958.6,666.4 M142.4,699.6L151.4,700.4 M969.9,699.7L961.5,700.4 M203.4,98.2A4100.7,4100.7 0 0 0 909.5,98.1L963.9,727.8A4732.7,4732.7 0 0 1 149,727.9Z" fill="none" stroke="#000" stroke-width="0.7"/>
<path d="M144.1,731.8A4737.1,4737.1 0 0 0 224.1,738.1 M269,99.3A4096.7,4096.7 0 0 0 340.7,103.8 M307,743.2A4737.1,4737.1 0 0 0 390.1,746.9 M412.6,106.9A4096.7,4096.7 0 0 0 484.4,108.8 M473.2,749.1A4737.1,4737.1 0 0 0 556.3,749.8 M556.3,109.4A4096.7,4096.7 0 0 0 628.2,108.8 M639.4,749.1A4737.1,4737.1 0 0 0 722.5,746.9 M700.1,106.9A4096.7,4096.7 0 0 0 771.9,103.8 M805.6,743.2A4737.1,4737.1 0 0 0 888.5,738.1 M843.6,99.3A4096.7,4096.7 0 0 0 912.8,93.9 M912.8,93.9L914,108.4 M198.6,108.4L197.1,125.4 M915.5,125.4L921.5,193.3 M191.1,193.3L185.2,261 M927.4,261L933.3,328.4 M179.3,328.4L173.5,395.8 M939.2,395.8L945,463.2 M167.6,463.2L161.7,530.6 M950.9,530.6L956.8,598.2 M155.8,598.2L149.9,666 M962.8,666L965.7,700 M146.9,700L144.1,731.8" fill="none" stroke="#000" stroke-width="1.15"/>
<path d="M197,80.9L196.2,89.6 M138.4,744.6L139.2,735.8 M341.4,91L340.5,107.7 M306.4,756.4L307.3,738.9 M484.6,96.1L484.4,112.7 M473,762.2L473.3,744.7 M628,96.1L628.3,112.7 M639.7,762.2L639.3,744.7 M771.2,91L772.1,107.7 M806.3,756.4L805.3,738.9 M915.3,80.9L916.1,89.6 M973.9,744.6L973.1,735.8 M184.3,124.3L201,125.8 M928,124.3L911.9,125.7 M172.4,259.8L189.3,261.3 M939.9,259.9L923.6,261.3 M160.5,394.7L177.7,396.2 M951.8,394.7L935.2,396.2 M148.6,529.5L166,531 M963.7,529.5L946.9,531 M136.6,664.8L154.4,666.4 M975.7,664.9L958.6,666.4" fill="none" stroke="#000" stroke-width="0.9"/>
<g id="labels" opacity="0.99">
<text transform="translate(139.7,757.4) rotate(5) scale(1.09,1)" font-size="21.2" text-anchor="middle" fill="#000" stroke="#000" stroke-width="0.3" y="7.6">100°W</text>
<text transform="translate(308.8,767.9) rotate(3) scale(1.09,1)" font-size="21.2" text-anchor="middle" fill="#000" stroke="#000" stroke-width="0.3" y="7.6">95°W</text>
<text transform="translate(475.7,774.2) rotate(1) scale(1.09,1)" font-size="21.2" text-anchor="middle" fill="#000" stroke="#000" stroke-width="0.3" y="7.6">90°W</text>
<text transform="translate(642.8,775) rotate(-1) scale(1.09,1)" font-size="21.2" text-anchor="middle" fill="#000" stroke="#000" stroke-width="0.3" y="7.6">85°W</text>
<text transform="translate(809.4,769) rotate(-3) scale(1.09,1)" font-size="21.2" text-anchor="middle" fill="#000" stroke="#000" stroke-width="0.3" y="7.6">80°W</text>
<text transform="translate(975.5,757.6) rotate(-5) scale(1.09,1)" font-size="21.2" text-anchor="middle" fill="#000" stroke="#000" stroke-width="0.3" y="7.6">75°W</text>
<text transform="translate(152.9,121.5) rotate(5) scale(1.09,1)" font-size="21.2" text-anchor="middle" fill="#000" stroke="#000" stroke-width="0.3" y="7.6">32°N</text>
<text transform="translate(141,257.1) rotate(5) scale(1.09,1)" font-size="21.2" text-anchor="middle" fill="#000" stroke="#000" stroke-width="0.3" y="7.6">28°N</text>
<text transform="translate(129.1,391.9) rotate(5) scale(1.09,1)" font-size="21.2" text-anchor="middle" fill="#000" stroke="#000" stroke-width="0.3" y="7.6">24°N</text>
<text transform="translate(117.3,526.7) rotate(5) scale(1.09,1)" font-size="21.2" text-anchor="middle" fill="#000" stroke="#000" stroke-width="0.3" y="7.6">20°N</text>
<text transform="translate(105.4,662.1) rotate(5) scale(1.09,1)" font-size="21.2" text-anchor="middle" fill="#000" stroke="#000" stroke-width="0.3" y="7.6">16°N</text>
</g>
<rect x="989.4" y="89.9" width="34.1" height="664.5" fill="url(#jet)" stroke="#262626" stroke-width="0.8"/>
<path d="M1023.5,687.9h-7.3M1023.5,621.5h-7.3M1023.5,555h-7.3M1023.5,488.6h-7.3M1023.5,422.1h-7.3M1023.5,355.7h-7.3M1023.5,289.2h-7.3M1023.5,222.8h-7.3M1023.5,156.4h-7.3" stroke="#262626" stroke-width="0.8" fill="none"/>
<g opacity="0.99">
<text transform="translate(1031.5,753.1) rotate(0) scale(1.125,1)" font-size="19" text-anchor="start" fill="#262626" stroke="#262626" stroke-width="0.3" y="6.8">0</text>
<text transform="translate(1031.5,686.6) rotate(0) scale(1.125,1)" font-size="19" text-anchor="start" fill="#262626" stroke="#262626" stroke-width="0.3" y="6.8">10</text>
<text transform="translate(1031.5,620.2) rotate(0) scale(1.125,1)" font-size="19" text-anchor="start" fill="#262626" stroke="#262626" stroke-width="0.3" y="6.8">20</text>
<text transform="translate(1031.5,553.8) rotate(0) scale(1.125,1)" font-size="19" text-anchor="start" fill="#262626" stroke="#262626" stroke-width="0.3" y="6.8">30</text>
<text transform="translate(1031.5,487.3) rotate(0) scale(1.125,1)" font-size="19" text-anchor="start" fill="#262626" stroke="#262626" stroke-width="0.3" y="6.8">40</text>
<text transform="translate(1031.5,420.8) rotate(0) scale(1.125,1)" font-size="19" text-anchor="start" fill="#262626" stroke="#262626" stroke-width="0.3" y="6.8">50</text>
<text transform="translate(1031.5,354.4) rotate(0) scale(1.125,1)" font-size="19" text-anchor="start" fill="#262626" stroke="#262626" stroke-width="0.3" y="6.8">60</text>
<text transform="translate(1031.5,287.9) rotate(0) scale(1.125,1)" font-size="19" text-anchor="start" fill="#262626" stroke="#262626" stroke-width="0.3" y="6.8">70</text>
<text transform="translate(1031.5,221.5) rotate(0) scale(1.125,1)" font-size="19" text-anchor="start" fill="#262626" stroke="#262626" stroke-width="0.3" y="6.8">80</text>
<text transform="translate(1031.5,155.1) rotate(0) scale(1.125,1)" font-size="19" text-anchor="start" fill="#262626" stroke="#262626" stroke-width="0.3" y="6.8">90</text>
<text transform="translate(1031.5,88.6) rotate(0) scale(1.125,1)" font-size="19" text-anchor="start" fill="#262626" stroke="#262626" stroke-width="0.3" y="6.8">100</text>
</g>
</svg></body></html>
